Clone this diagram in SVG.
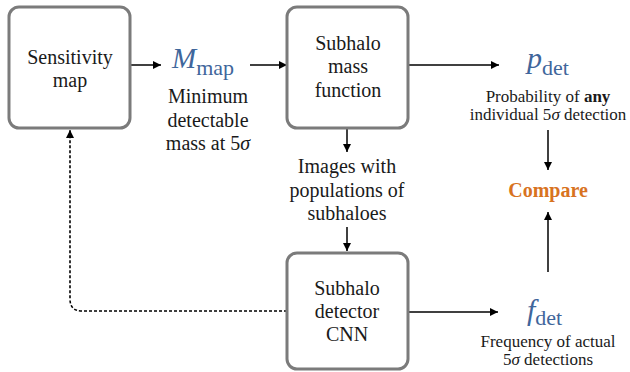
<svg xmlns="http://www.w3.org/2000/svg" width="630" height="372" viewBox="0 0 630 372">
  <defs>
    <marker id="head" viewBox="0 0 10 10" refX="10" refY="5" markerWidth="8" markerHeight="8" markerUnits="userSpaceOnUse" orient="auto">
      <path d="M0,0 L10,5 L0,10 z" fill="#000"/>
    </marker>
  </defs>
  <style>
    text { font-family: "Liberation Serif", "Tinos", "Times New Roman", "DejaVu Serif", "Noto Serif", serif; }
    .box { fill: #fff; stroke: #7b7b7b; stroke-width: 3; }
    .lbl { font-size: 20px; fill: #1a1a1a; text-anchor: middle; }
    .small { font-size: 17px; fill: #1a1a1a; text-anchor: middle; }
    .sym { fill: #3f669b; }
    .cmp { font-size: 20px; font-weight: bold; fill: #d8731f; text-anchor: middle; }
    .edge { fill: none; stroke: #000; stroke-width: 1.5; marker-end: url(#head); }
    .dotted { fill: none; stroke: #000; stroke-width: 1.6; stroke-dasharray: 3 2; marker-end: url(#head); }
  </style>
  <rect width="630" height="372" fill="#fff"/>

  <!-- connectors -->
  <g id="connectors">
    <line class="edge" x1="130" y1="65" x2="161" y2="65"/>
    <line class="edge" x1="250" y1="65" x2="287" y2="65"/>
    <line class="edge" x1="408" y1="65" x2="499" y2="65"/>
    <line class="edge" x1="347" y1="128" x2="347" y2="152"/>
    <line class="edge" x1="347" y1="227" x2="347" y2="251"/>
    <line class="edge" x1="408" y1="312" x2="498" y2="312"/>
    <line class="edge" x1="548" y1="130" x2="548" y2="170"/>
    <line class="edge" x1="548" y1="272" x2="548" y2="212"/>
    <path class="dotted" d="M287,311 L82,311 Q70,311 70,299 L70,130"/>
  </g>

  <!-- nodes -->
  <g id="sensitivity-map">
    <rect class="box" x="9" y="7" width="121" height="121" rx="10"/>
    <text class="lbl" x="70" y="64">Sensitivity</text>
    <text class="lbl" x="70" y="87">map</text>
  </g>

  <g id="mass-function">
    <rect class="box" x="287" y="7" width="121" height="121" rx="10"/>
    <text class="lbl" x="348" y="50">Subhalo</text>
    <text class="lbl" x="348" y="73">mass</text>
    <text class="lbl" x="348" y="97">function</text>
  </g>

  <g id="detector-cnn">
    <rect class="box" x="287" y="253" width="121" height="116" rx="10"/>
    <text class="lbl" x="347" y="295">Subhalo</text>
    <text class="lbl" x="347" y="318">detector</text>
    <text class="lbl" x="347" y="341">CNN</text>
  </g>

  <g id="m-map">
    <text class="sym" x="172" y="68"><tspan font-style="italic" font-size="29">M</tspan><tspan font-size="22" dy="7">map</tspan></text>
    <text class="lbl" x="208" y="103">Minimum</text>
    <text class="lbl" x="208" y="127">detectable</text>
    <text class="lbl" x="208" y="150">mass at 5<tspan font-style="italic">σ</tspan></text>
  </g>

  <g id="images">
    <text class="lbl" x="347" y="173">Images with</text>
    <text class="lbl" x="347" y="197">populations of</text>
    <text class="lbl" x="347" y="220">subhaloes</text>
  </g>

  <g id="p-det">
    <text class="sym" x="527" y="68"><tspan font-style="italic" font-size="30">p</tspan><tspan font-size="22" dy="7">det</tspan></text>
    <text class="small" x="548" y="102">Probability of <tspan font-weight="bold">any</tspan></text>
    <text class="small" x="548" y="120">individual 5<tspan font-style="italic">σ</tspan> detection</text>
  </g>

  <g id="compare">
    <text class="cmp" x="548" y="197">Compare</text>
  </g>

  <g id="f-det">
    <text class="sym" x="527" y="320"><tspan font-style="italic" font-size="30">f</tspan><tspan font-size="22" dy="5">det</tspan></text>
    <text class="small" x="548" y="347">Frequency of actual</text>
    <text class="small" x="548" y="365">5<tspan font-style="italic">σ</tspan> detections</text>
  </g>
</svg>
